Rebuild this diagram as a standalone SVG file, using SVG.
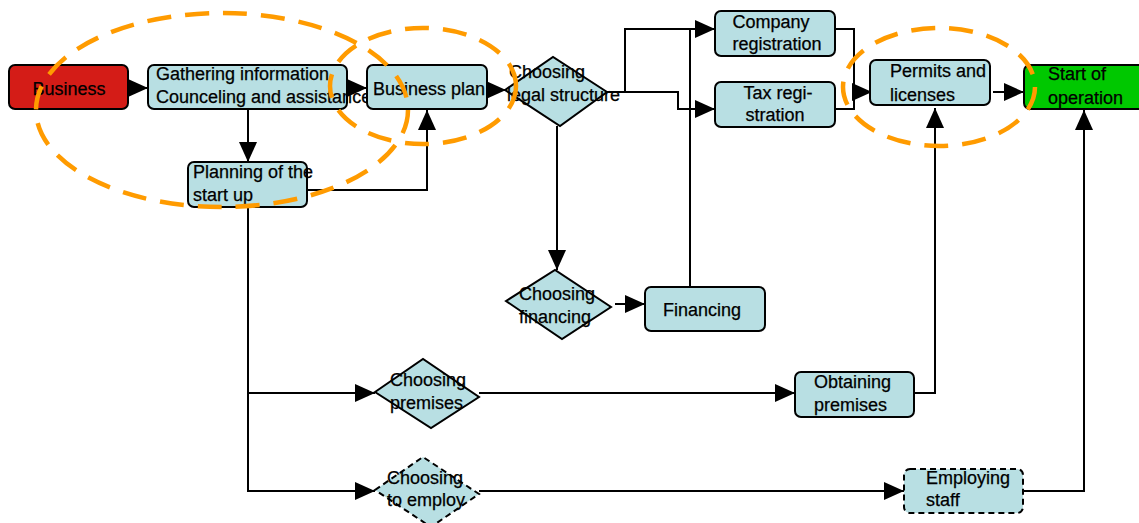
<svg xmlns="http://www.w3.org/2000/svg" width="1139" height="523" viewBox="0 0 1139 523">
<defs>
<marker id="ah" markerUnits="userSpaceOnUse" markerWidth="20" markerHeight="18" refX="20" refY="9" orient="auto">
<path d="M0,0 L20,9 L0,18 z" fill="#000"/>
</marker>
</defs>
<style>
.box{fill:#b8dfe3;stroke:#000;stroke-width:2}
.dash{stroke-dasharray:6 4}
.t{font-family:"Liberation Sans",Arial,sans-serif;font-size:18px;fill:#000;stroke:#000;stroke-width:0.25}
.c{stroke:#000;stroke-width:2;fill:none}
.a{marker-end:url(#ah)}
.hl{fill:none;stroke:#ff9b00;stroke-width:4.5;stroke-dasharray:24 14}
</style>
<rect width="1139" height="523" fill="#fff"/>
<g id="connectors">
<path class="c a" d="M128,88 L148,88"/>
<path class="c a" d="M347,88 L367,88"/>
<path class="c a" d="M248,109 L248,162"/>
<path class="c a" d="M307,190 L427,190 L427,110"/>
<path class="c a" d="M487,90 L506,90"/>
<path class="c a" d="M607,92 L625,92 L625,29 L715,29"/>
<path class="c a" d="M607,92 L678,92 L678,109 L715,109"/>
<path class="c" d="M690,287 L690,29"/>
<path class="c a" d="M557,126 L557,270"/>
<path class="c a" d="M615,304 L645,304"/>
<path class="c" d="M835,29 L854,29 L854,109 L835,109"/>
<path class="c a" d="M854,92 L872,92"/>
<path class="c a" d="M993,92 L1024,92"/>
<path class="c a" d="M248,207 L248,491 L375,491"/>
<path class="c a" d="M248,393 L375,393"/>
<path class="c a" d="M479,393 L795,393"/>
<path class="c a" d="M479,491 L904,491"/>
<path class="c a" d="M914,393 L935,393 L935,108"/>
<path class="c a" d="M1023,491 L1084,491 L1084,110"/>
</g>
<g id="business">
<rect x="9" y="65" width="119" height="44" rx="6" fill="#d41c17" stroke="#000" stroke-width="2"/>
<text class="t" x="69" y="95" text-anchor="middle">Business</text>
</g>
<g id="gathering">
<rect class="box" x="148" y="65" width="199" height="44" rx="6"/>
<text class="t" x="156" y="80">Gathering information</text>
<text class="t" x="156" y="103">Counceling and assistance</text>
</g>
<g id="business-plan">
<rect class="box" x="367" y="65" width="120" height="44" rx="6"/>
<text class="t" x="373" y="95">Business plan</text>
</g>
<g id="planning">
<rect class="box" x="188" y="162" width="119" height="45" rx="6"/>
<text class="t" x="193" y="178">Planning of the</text>
<text class="t" x="193" y="201">start up</text>
</g>
<g id="legal">
<path class="box" d="M505,90 L553,57 L607,92 L560,126 Z"/>
<text class="t" x="509" y="78">Choosing</text>
<text class="t" x="507" y="101">legal structure</text>
</g>
<g id="company-reg">
<rect class="box" x="715" y="11" width="120" height="45" rx="6"/>
<text class="t" x="771" y="28" text-anchor="middle">Company</text>
<text class="t" x="777" y="50" text-anchor="middle">registration</text>
</g>
<g id="tax-reg">
<rect class="box" x="715" y="82" width="120" height="45" rx="6"/>
<text class="t" x="778" y="99" text-anchor="middle">Tax regi-</text>
<text class="t" x="775" y="121" text-anchor="middle">stration</text>
</g>
<g id="permits">
<rect class="box" x="870" y="60" width="120" height="45" rx="6"/>
<text class="t" x="890" y="77">Permits and</text>
<text class="t" x="890" y="101">licenses</text>
</g>
<g id="start">
<rect x="1024" y="65" width="125" height="44" rx="6" fill="#00c800" stroke="#000" stroke-width="2"/>
<text class="t" x="1048" y="80">Start of</text>
<text class="t" x="1048" y="104">operation</text>
</g>
<g id="choosing-financing">
<path class="box" d="M506,301 L555,270 L611,307 L562,339 Z"/>
<text class="t" x="519" y="300">Choosing</text>
<text class="t" x="519" y="323">financing</text>
</g>
<g id="financing">
<rect class="box" x="645" y="287" width="120" height="44" rx="6"/>
<text class="t" x="702" y="316" text-anchor="middle">Financing</text>
</g>
<g id="choosing-premises">
<path class="box" d="M375,392 L423,359 L479,397 L431,428 Z"/>
<text class="t" x="390" y="386">Choosing</text>
<text class="t" x="390" y="409">premises</text>
</g>
<g id="obtaining-premises">
<rect class="box" x="795" y="372" width="119" height="45" rx="6"/>
<text class="t" x="814" y="388">Obtaining</text>
<text class="t" x="814" y="411">premises</text>
</g>
<g id="choosing-employ">
<path class="box dash" d="M375,490 L423,457 L479,494 L431,527 Z"/>
<text class="t" x="387" y="484">Choosing</text>
<text class="t" x="387" y="506">to employ</text>
</g>
<g id="employing-staff">
<rect class="box dash" x="904" y="469" width="119" height="44" rx="6"/>
<text class="t" x="926" y="484">Employing</text>
<text class="t" x="926" y="506">staff</text>
</g>
<g id="highlights">
<ellipse class="hl" cx="222" cy="110" rx="186" ry="97"/>
<ellipse class="hl" cx="423" cy="86" rx="93" ry="58"/>
<ellipse class="hl" cx="939" cy="87" rx="96" ry="59"/>
</g>
</svg>
